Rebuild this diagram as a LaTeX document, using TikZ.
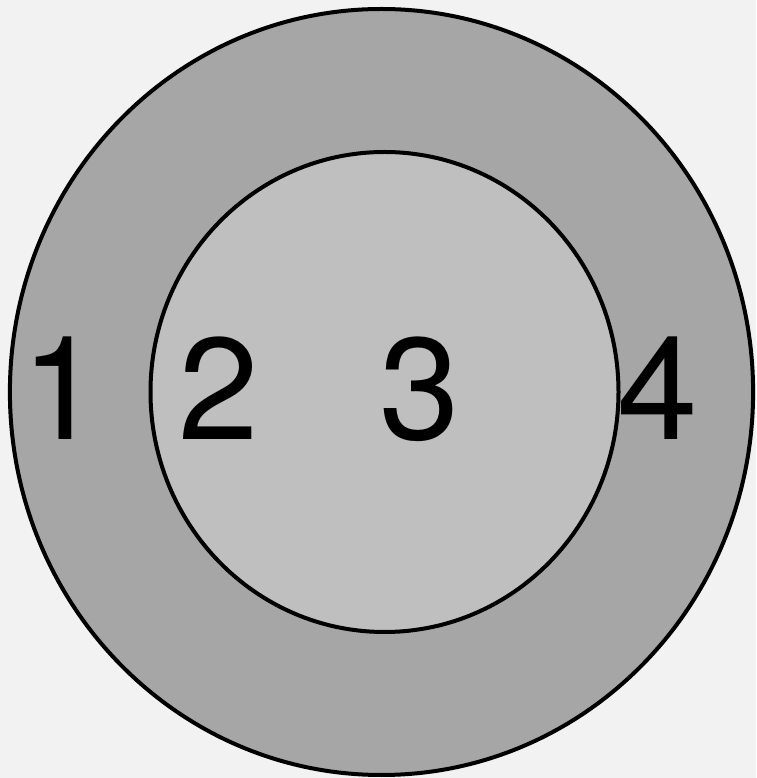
\documentclass[tikz,border=0pt]{standalone}
\usepackage{fontspec}
\setmainfont{TeX Gyre Heros}
\usetikzlibrary{positioning}
\definecolor{RingBack}{HTML}{F2F2F2}
\definecolor{RingOuter}{HTML}{A6A6A6}
\definecolor{RingInner}{HTML}{BFBFBF}

\begin{document}
\begin{tikzpicture}[
          ring/.style={draw=black,line width=0.1cm},
          digit/.style={font=\fontsize{103}{103}\selectfont,anchor=base,
            inner sep=0pt,text=black}
        ]
        \fill[RingBack] (0,0) rectangle (18.9,19.45);
        \useasboundingbox (0,0) rectangle (18.9,19.45);
        \filldraw[ring,fill=RingOuter] (9.5375,9.65) ellipse (9.29cm and 9.575cm);
        \filldraw[ring,fill=RingInner] (9.6125,9.65) ellipse (5.85cm and 6.0cm);
        \node[digit] (n1) at (1.55,8.45) {1};
        \node[digit] (n2) at (5.475,8.45) {2};
        \node[digit] (n3) at (10.5,8.45) {3};
        \node[digit] (n4) at (16.45,8.45) {4};
      \end{tikzpicture}
\end{document}
